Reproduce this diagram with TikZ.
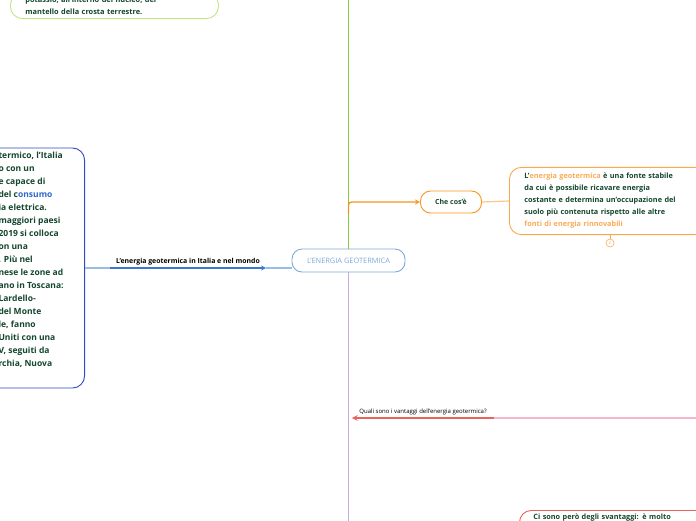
\documentclass[tikz,border=0pt]{standalone}
\usepackage{fontspec}
\setmainfont{Open Sans}
\usepackage{xcolor}
\usetikzlibrary{shapes,arrows,positioning}
\definecolor{txtgreen}{RGB}{20,70,45}
\definecolor{linegreen}{RGB}{141,198,63}
\definecolor{boxgreen}{RGB}{192,230,135}
\definecolor{boxblue}{RGB}{45,75,190}
\definecolor{linkblue}{RGB}{45,105,205}
\definecolor{lineblue}{RGB}{60,120,210}
\definecolor{paleblue}{RGB}{150,190,230}
\definecolor{rootblue}{RGB}{125,170,215}
\definecolor{lineorange}{RGB}{247,148,30}
\definecolor{paleorange}{RGB}{251,200,140}
\definecolor{txtorange}{RGB}{250,172,85}
\definecolor{linepurple}{RGB}{192,172,222}
\definecolor{linered}{RGB}{232,100,90}
\definecolor{palepink}{RGB}{246,182,204}

\begin{document}
\begin{tikzpicture}[
    x=1pt, y=-1pt,
    topicbox/.style={rectangle, draw, fill=white, rounded corners=12pt, line width=0.9pt, text=txtgreen, align=left, font=\bfseries},
    pill/.style={rectangle, draw, fill=white, rounded corners=10pt, line width=0.9pt},
    linelabel/.style={inner xsep=0pt, inner ysep=2.5pt},
    arrow/.style={->, >=stealth, line width=1.3pt}
]
\useasboundingbox (0,0) rectangle (696,520);

\node[pill, draw=rootblue, text=rootblue, minimum width=113pt, minimum height=23pt, font=\fontsize{7.4}{8}\selectfont] (root) at (348.5,260.5) {L’ENERGIA GEOTERMICA};

\node[topicbox, draw=boxgreen, anchor=south west, text width=178pt, inner xsep=15pt, inner ysep=4pt, font=\bfseries\fontsize{7.4}{12}\selectfont] (topbox) at (10,19) {potassio, all’interno del nucleo, del\\mantello della crosta terrestre.};

\node[topicbox, draw=boxblue, anchor=east, inner sep=0pt, font=\bfseries\fontsize{8.5}{13}\selectfont] (italiabox) at (85,268) {\parbox[c][240pt][t]{110pt}{\leftskip=24pt\vspace{4.5pt}termico, l’Italia\\o con un\\e capace di\\del c\textcolor{linkblue}{onsumo}\\ia elettrica.\\maggiori paesi\\2019 si colloca\\on una\\. Più nel\\nese le zone ad\\ano in Toscana:\\Lardello-\\del Monte\\le, fanno\\Uniti con una\\V, seguiti da\\rchia, Nuova}};

\node[linelabel, anchor=south, minimum width=156pt, font=\fontsize{6.9}{8}\selectfont\bfseries] (italialabel) at (188,268) {L’energia geotermica in Italia e nel mondo};

\node[pill, draw=lineorange, text=txtgreen, minimum width=61pt, minimum height=22pt, font=\bfseries\fontsize{7}{9}\selectfont] (checose) at (451,202) {Che cos’è};
\node[topicbox, draw=lineorange!80, anchor=west, text width=205pt, inner xsep=15pt, inner ysep=6pt, minimum height=62pt, font=\bfseries\fontsize{7.3}{12}\selectfont] (cosadesc) at (509,201) {L’\textcolor{txtorange}{energia geotermica} è una fonte stabile\\da cui è possibile ricavare energia\\costante e determina un’occupazione del\\suolo più contenuta rispetto alle altre\\\textcolor{txtorange}{fonti di energia rinnovabili}};
\node[circle, draw=txtorange, line width=0.6pt, minimum size=8pt, inner sep=0pt, text=txtorange, font=\fontsize{4.5}{5}\selectfont] (count) at (610,243) {2};

\node[linelabel, anchor=south, minimum width=142pt, font=\fontsize{6}{7}\selectfont] (vantaggi) at (423,418) {Quali sono i vantaggi dell’energia geotermica?};

\node[topicbox, draw=linered, anchor=north west, text width=170pt, inner xsep=14pt, inner ysep=4pt, text height=5.5pt, text depth=25pt, font=\bfseries\fontsize{7.3}{12}\selectfont] (svantbox) at (519,510) {Ci sono però degli svantaggi: è molto};

\coordinate (topend) at (348.5,-5);
\coordinate (forkup) at (348.5,214);
\coordinate (bottomend) at (348.5,525);
\coordinate (rightend) at (700,418);

\draw[linegreen, line width=1.6pt] (root.north) -- (topend);
\draw[linepurple, line width=1.4pt] (root.south) -- (bottomend);
\draw[arrow, lineorange, rounded corners=3pt] (forkup) |- (checose.west);
\draw[paleorange, line width=1.2pt] (checose.east) -- (cosadesc.west);
\draw[lineorange!80, line width=0.7pt] (count.north |- cosadesc.south) -- (count.north);
\draw[arrow, lineblue] (italialabel.south west) -- (italialabel.south east);
\draw[paleblue, line width=1.2pt] (italialabel.south east) -- (italialabel.south east -| root.west);
\draw[paleblue, line width=1.2pt] (italiabox.east) -- (italialabel.south west);
\draw[arrow, linered, line width=1.6pt] (vantaggi.south east) -- (vantaggi.south west);
\draw[palepink, line width=1.4pt] (vantaggi.south east) -- (rightend);
\end{tikzpicture}
\end{document}
